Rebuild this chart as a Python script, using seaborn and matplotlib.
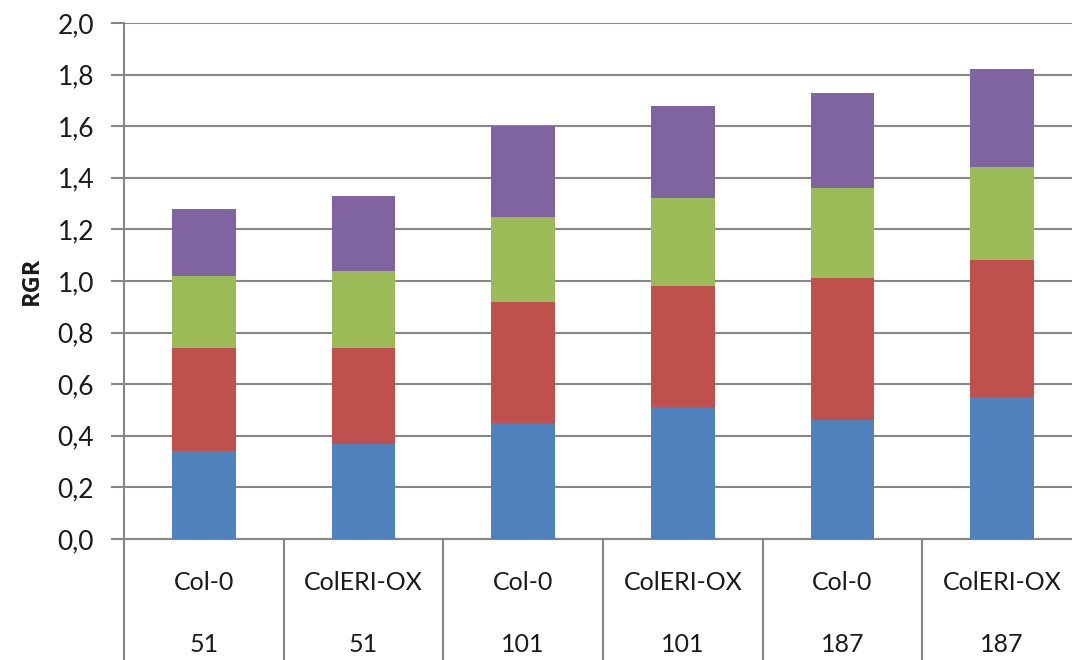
import matplotlib
matplotlib.use("Agg")
import matplotlib.pyplot as plt
import matplotlib.transforms as mtransforms
import numpy as np
import pandas as pd
import seaborn as sns

# Categories: genotype (first row) and day (second row)
genotypes = ["Col-0", "ColERI-OX", "Col-0", "ColERI-OX", "Col-0", "ColERI-OX"]
days = ["51", "51", "101", "101", "187", "187"]

# Stacked segment values (RGR), bottom to top
seg_blue = [0.34, 0.37, 0.45, 0.51, 0.46, 0.55]
seg_red = [0.40, 0.37, 0.47, 0.47, 0.55, 0.53]
seg_green = [0.28, 0.30, 0.33, 0.34, 0.35, 0.36]
seg_purple = [0.26, 0.29, 0.35, 0.36, 0.37, 0.38]

y_ticks = [0.0, 0.2, 0.4, 0.6, 0.8, 1.0, 1.2, 1.4, 1.6, 1.8, 2.0]
y_label = "RGR"

colors = ["#4F81BD", "#C0504D", "#9BBB59", "#8064A2"]
segments = [seg_blue, seg_red, seg_green, seg_purple]

sns.set_style("white")
plt.rcParams["font.family"] = ["Lato", "DejaVu Sans"]

groups = [f"{g}\n{d}#{i}" for i, (g, d) in enumerate(zip(genotypes, days))]
cum = np.cumsum(np.array(segments), axis=0)

W, H = 1072, 660
fig = plt.figure(figsize=(W / 100, H / 100), dpi=100)
ax_left, ax_right, ax_top, ax_bottom = 124, 1082, 23, 539
ax = fig.add_axes([ax_left / W, 1 - ax_bottom / H,
                   (ax_right - ax_left) / W, (ax_bottom - ax_top) / H])

# Stacked bars: draw cumulative totals from the top layer down
for level in range(len(segments) - 1, -1, -1):
    df = pd.DataFrame({"group": groups, "value": cum[level]})
    sns.barplot(data=df, x="group", y="value", color=colors[level],
                width=0.4, saturation=1, ax=ax, zorder=3, linewidth=0)

grid_col = "#878787"
ax.set_xlim(-0.5, len(groups) - 0.5)
ax.set_ylim(0, 2.0)
ax.set_yticks(y_ticks)
ax.set_yticklabels([f"{t:.1f}".replace(".", ",") for t in y_ticks])
ax.yaxis.grid(True, color=grid_col, linewidth=1.5, zorder=0)
ax.set_axisbelow(True)
ax.tick_params(axis="y", length=9.5, width=1.5, color=grid_col, pad=12,
               labelsize=19, labelcolor="#1a1a1a", left=True)
ax.tick_params(axis="x", length=0, labelbottom=False)
ax.set_xlabel("")
ax.set_ylabel(y_label, fontsize=17, fontweight="bold", color="#1a1a1a",
              family=["Open Sans", "DejaVu Sans"], labelpad=10)

for s in ["top", "right"]:
    ax.spines[s].set_visible(False)
for s in ["left", "bottom"]:
    ax.spines[s].set_color(grid_col)
    ax.spines[s].set_linewidth(1.5)

# Category axis: separators and two rows of labels below the plot
trans = mtransforms.blended_transform_factory(ax.transData, ax.transAxes)
for b in np.arange(-0.5, len(groups) + 0.5, 1.0):
    ax.plot([b, b], [0, -0.3], transform=trans, color=grid_col,
            linewidth=1.5, clip_on=False)
ax_h = ax_bottom - ax_top
row1 = -(582 - ax_bottom) / ax_h
row2 = -(644 - ax_bottom) / ax_h
for i, (g, d) in enumerate(zip(genotypes, days)):
    ax.text(i, row1, g, transform=trans, ha="center", va="center",
            fontsize=18, color="#1a1a1a")
    ax.text(i, row2, d, transform=trans, ha="center", va="center",
            fontsize=18, color="#1a1a1a")

fig.savefig("out.png", dpi=100)
